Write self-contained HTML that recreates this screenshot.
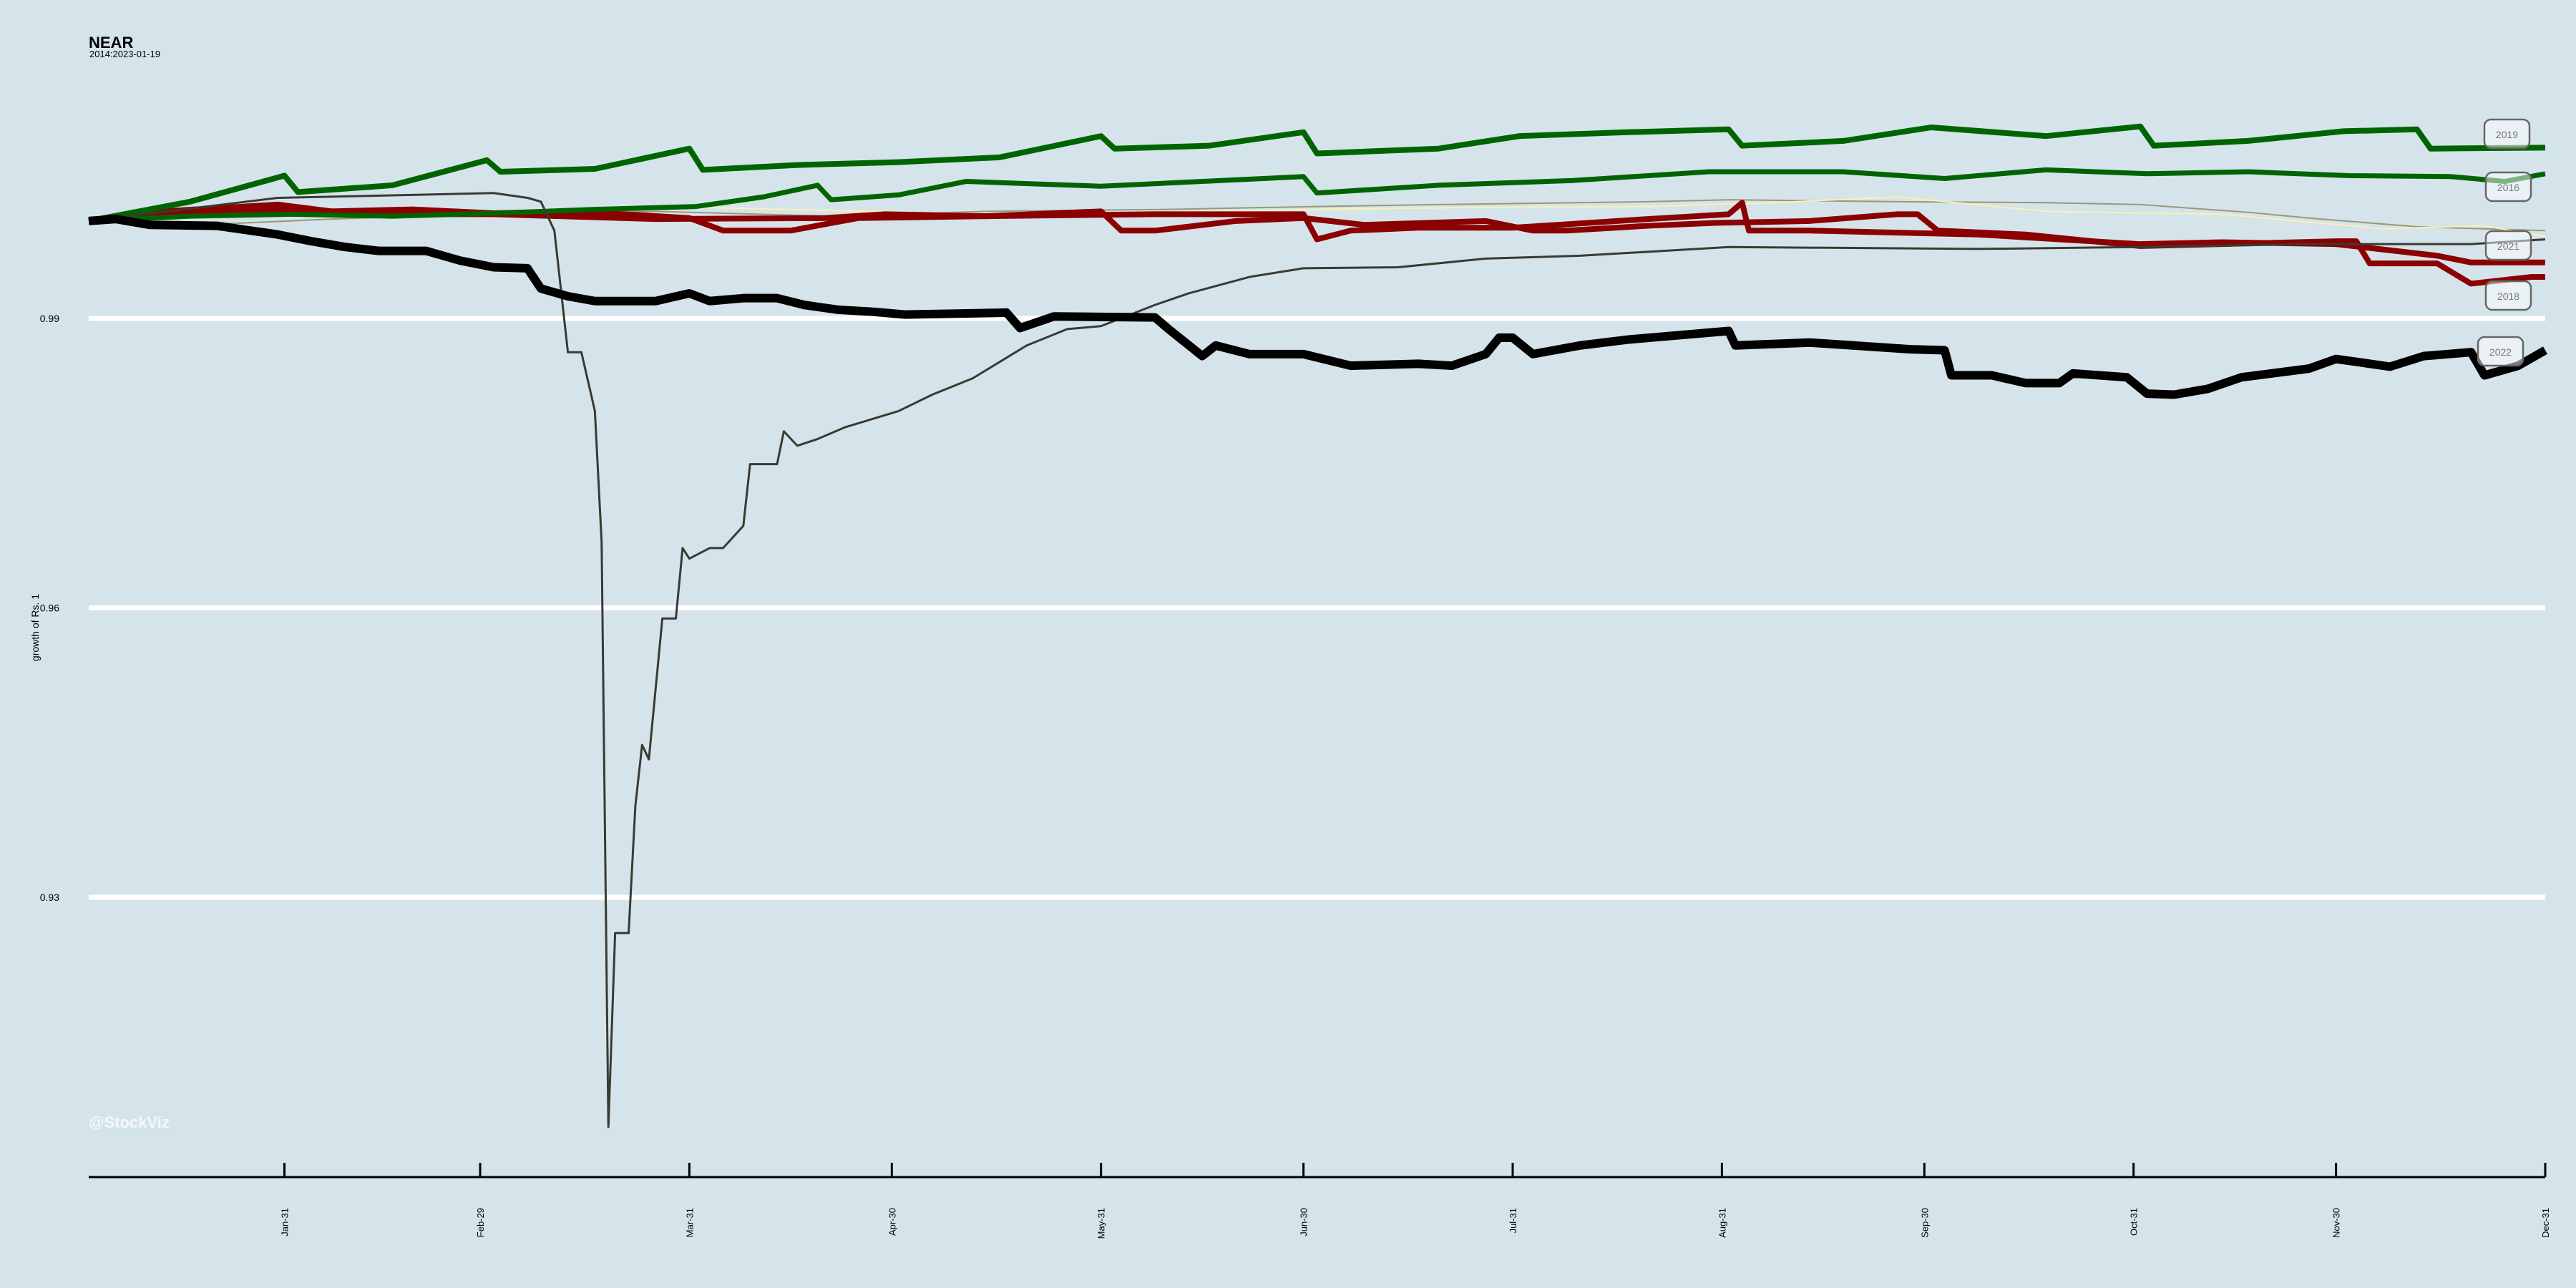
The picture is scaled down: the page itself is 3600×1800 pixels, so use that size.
<!DOCTYPE html>
<html><head><meta charset="utf-8"><style>
html,body{margin:0;padding:0;background:#d5e4eb;}
svg{display:block;font-family:"Liberation Sans",sans-serif;}
</style></head><body>
<svg id="chart" width="3600" height="1800" viewBox="0 0 3600 1800">
<rect x="0" y="0" width="3600" height="1800" fill="#d5e4eb"/>
<text x="124" y="67" font-size="22" font-weight="bold" fill="#000">NEAR</text>
<text x="125" y="80" font-size="13" fill="#000">2014:2023-01-19</text>
<text transform="translate(54,877) rotate(-90)" text-anchor="middle" font-size="14" fill="#000">growth of Rs. 1</text>
<text x="124" y="1576" font-size="22" font-weight="bold" fill="#ffffff" fill-opacity="0.75">@StockViz</text>
<g id="grid"></g><g id="series"></g><g id="axis"></g><g id="labels"></g>
</svg>
<script>
const yTicks=[0.99,0.96,0.93];
const xTickLabels=["Jan-31","Feb-29","Mar-31","Apr-30","May-31","Jun-30","Jul-31","Aug-31","Sep-30","Oct-31","Nov-30","Dec-31"];
const xTickDays=[29,58,89,119,150,180,211,242,272,303,333,364];

const d2019=[0,15,29,31,45,59,61,75,89,91,105,120,135,150,152,166,180,182,200,212,228,243,245,260,273,290,304,306,320,334,345,347,364];
const v2019=[1.0001,1.0021,1.0048,1.0031,1.0038,1.0064,1.0052,1.0055,1.0076,1.0054,1.0059,1.0062,1.0067,1.0089,1.0076,1.0079,1.0093,1.0071,1.0076,1.0089,1.0093,1.0096,1.0079,1.0084,1.0098,1.0089,1.0099,1.0079,1.0084,1.0094,1.0096,1.0076,1.0077];
const d2016=[0,15,30,45,60,75,90,100,108,110,120,130,150,165,180,182,200,220,240,260,275,290,305,320,335,350,358,364];
const v2016=[1.0001,1.0006,1.0008,1.0006,1.0009,1.0013,1.0016,1.0026,1.0038,1.0023,1.0028,1.0042,1.0037,1.0042,1.0047,1.003,1.0038,1.0043,1.0052,1.0052,1.0045,1.0054,1.005,1.0052,1.0048,1.0047,1.0042,1.005];
const dCrash=[0,28,48,60,65,67,69,71,73,75,76,77,78,80,81,82,83,85,87,88,89,92,94,97,98,102,103,105,108,112,120,125,131,135,139,145,150,158,163,172,180,194,207,221,243,280,304,329,353,364];
const vCrash=[1.0001,1.0025,1.0028,1.003,1.0025,1.0021,0.9991,0.9865,0.9865,0.9804,0.9668,0.9062,0.9263,0.9263,0.9395,0.9458,0.9443,0.9589,0.9589,0.9662,0.9651,0.9662,0.9662,0.9685,0.9749,0.9749,0.9783,0.9768,0.9775,0.9787,0.9804,0.9821,0.9838,0.9855,0.9872,0.9889,0.9892,0.9914,0.9926,0.9943,0.9952,0.9953,0.9962,0.9965,0.9974,0.9972,0.9974,0.9977,0.9977,0.9982];
const dBlack=[0,4,9,19,28,33,38,43,50,55,60,65,67,71,75,84,89,92,97,102,106,111,116,121,136,138,143,158,160,165,167,172,180,187,197,202,207,209,211,214,221,228,243,244,255,270,275,276,282,287,292,294,302,305,309,314,319,329,333,341,346,353,355,360,364];
const vBlack=[1.0001,1.0003,0.9997,0.9996,0.9987,0.998,0.9974,0.997,0.997,0.996,0.9953,0.9952,0.9931,0.9923,0.9918,0.9918,0.9926,0.9918,0.9921,0.9921,0.9914,0.9909,0.9907,0.9904,0.9906,0.989,0.9902,0.9901,0.9889,0.9861,0.9872,0.9863,0.9863,0.9851,0.9853,0.9851,0.9863,0.988,0.988,0.9863,0.9872,0.9878,0.9887,0.9872,0.9875,0.9868,0.9867,0.9841,0.9841,0.9833,0.9833,0.9843,0.9839,0.9822,0.9821,0.9827,0.9839,0.9848,0.9858,0.985,0.9861,0.9865,0.9841,0.9851,0.9867];
const dRedA=[0,11,28,36,48,60,72,89,94,104,114,133,150,153,158,170,180,189,207,214,219,231,241,255,268,271,274,287,304,316,333,336,338,348,353,362,364];
const vRedA=[1.0001,1.0011,1.0018,1.0011,1.0013,1.0009,1.0011,1.0004,0.9991,0.9991,1.0004,1.0006,1.0011,0.9991,0.9991,1.0001,1.0004,0.9997,1.0001,0.9991,0.9991,0.9996,0.9999,1.0001,1.0008,1.0008,0.9991,0.9987,0.9975,0.9977,0.998,0.998,0.9957,0.9957,0.9936,0.9943,0.9943];
const dRedB=[0,11,28,48,60,84,109,118,133,158,180,182,187,197,211,231,243,245,246,255,280,304,316,333,348,353,364];
const vRedB=[1.0001,1.0008,1.0013,1.0008,1.0008,1.0003,1.0004,1.0008,1.0006,1.0008,1.0008,0.9982,0.9991,0.9994,0.9994,1.0003,1.0008,1.002,0.9991,0.9991,0.9987,0.9977,0.9979,0.9977,0.9965,0.9958,0.9958];
const dKhaki=[0,20,36,60,84,110,133,160,182,200,231,243,268,290,304,320,329,345,364];
const vKhaki=[1.0001,0.9998,1.0003,1.0008,1.0011,1.0006,1.0011,1.0013,1.0016,1.0018,1.0021,1.0023,1.0021,1.002,1.0018,1.001,1.0004,0.9995,0.9991];
const dPale=[0,20,35,50,70,84,110,133,160,182,205,231,250,268,290,316,340,355,364];
const vPale=[1.0001,1.001,1.0013,1.0006,1.0012,1.0016,1.0012,1.0008,1.001,1.0013,1.0015,1.0016,1.002,1.0026,1.0011,1.0008,0.9993,0.9996,0.9985];

const NS="http://www.w3.org/2000/svg";
const X0=124,X1=3557,DMAX=364;
function xs(d){return X0+d*(X1-X0)/DMAX;}
function ys(v){return 445+(0.99-v)*13483;}
function mk(tag,parent){const e=document.createElementNS(NS,tag);document.getElementById(parent).appendChild(e);return e;}

yTicks.forEach(function(t){
  const l=mk('line','grid');
  l.setAttribute('x1',X0);l.setAttribute('x2',X1);l.setAttribute('y1',ys(t));l.setAttribute('y2',ys(t));
  l.setAttribute('stroke','#ffffff');l.setAttribute('stroke-width','7');
  
  
  const tx=mk('text','grid');
  tx.setAttribute('x','83');tx.setAttribute('y',ys(t)+5);tx.setAttribute('text-anchor','end');tx.setAttribute('font-size','14');
  tx.textContent=t.toFixed(2);
  
  
});

const ax=mk('line','axis');
ax.setAttribute('x1',X0);ax.setAttribute('x2',X1);ax.setAttribute('y1','1645');ax.setAttribute('y2','1645');
ax.setAttribute('stroke','#000');ax.setAttribute('stroke-width','3');


xTickDays.forEach(function(d,i){
  const t=mk('line','axis');
  t.setAttribute('x1',xs(d));t.setAttribute('x2',xs(d));t.setAttribute('y1','1625');t.setAttribute('y2','1645');
  t.setAttribute('stroke','#000');t.setAttribute('stroke-width','3');
  
  
  const tx=mk('text','axis');
  tx.setAttribute('transform','translate('+(xs(d)+5)+',1688) rotate(-90)');
  tx.setAttribute('text-anchor','end');tx.setAttribute('font-size','13');
  tx.textContent=xTickLabels[i];
  
  
});

function drawLine(days,vals,color,w,name){
  const p=mk('polyline','series');
  p.setAttribute('points',days.map(function(d,i){return xs(d)+','+ys(vals[i]);}).join(' '));
  p.setAttribute('fill','none');p.setAttribute('stroke',color);p.setAttribute('stroke-width',w);
  p.setAttribute('stroke-linejoin','round');
  
  
}
drawLine(dKhaki,vKhaki,'#9a9878',2,'series-khaki-line');
drawLine(dPale,vPale,'#f6f2b8',2,'series-pale-line');
drawLine(dRedB,vRedB,'#8b0000',8,'series-red-b-line');
drawLine(dRedA,vRedA,'#8b0000',8,'series-2018-line');
drawLine(d2016,v2016,'#006400',7,'series-2016-line');
drawLine(d2019,v2019,'#006400',8,'series-2019-line');
drawLine(dCrash,vCrash,'#3a3a32',3,'series-2021-line');
drawLine(dBlack,vBlack,'#000000',12,'series-2022-line');

const labelNames=["2019","2016","2021","2018","2022"];
const labelBoxes=[[3472,167],[3474,241],[3474,323],[3474,393],[3463,471]];
labelNames.forEach(function(n,i){
  const r=mk('rect','labels');
  r.setAttribute('x',labelBoxes[i][0]);r.setAttribute('y',labelBoxes[i][1]);r.setAttribute('width','63');r.setAttribute('height','40');
  r.setAttribute('rx','9');r.setAttribute('fill','#ffffff');r.setAttribute('fill-opacity','0.5');
  r.setAttribute('stroke','#666');r.setAttribute('stroke-width','2.5');
  
  
  const t=mk('text','labels');
  t.setAttribute('x',labelBoxes[i][0]+31.5);t.setAttribute('y',labelBoxes[i][1]+26);t.setAttribute('text-anchor','middle');
  t.setAttribute('font-size','14');t.setAttribute('fill','#777');
  t.textContent=n;
  
  
});
</script>
</body></html>
